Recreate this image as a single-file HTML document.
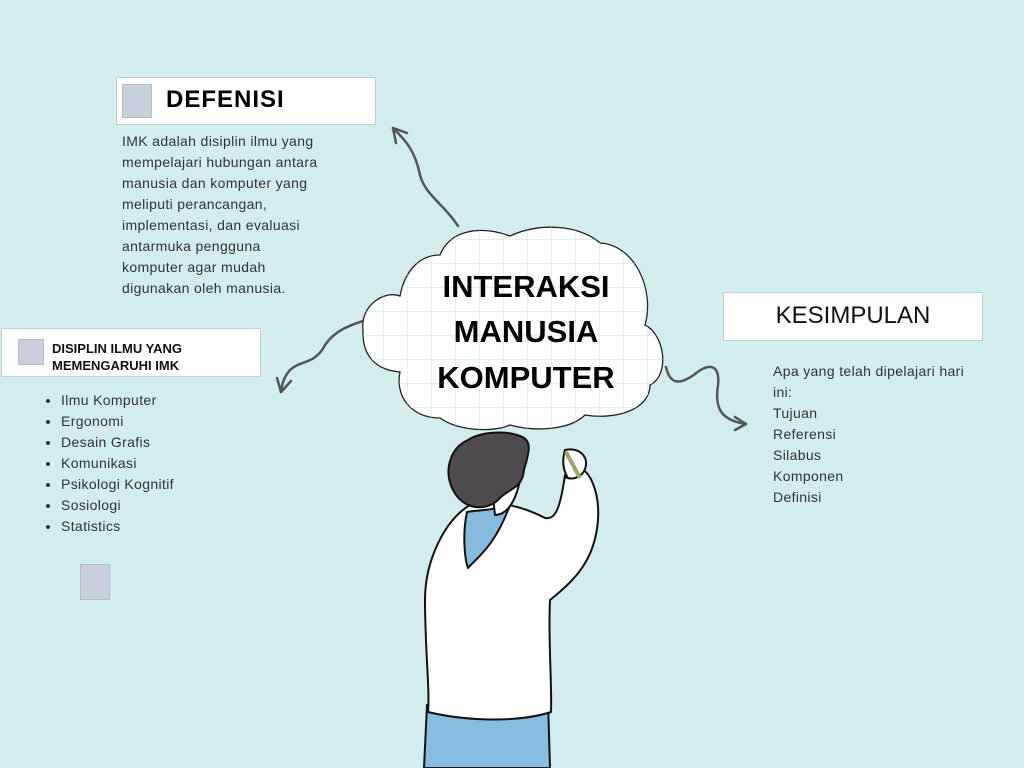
<!DOCTYPE html>
<html><head><meta charset="utf-8"><style>
body{margin:0;width:1024px;height:768px;background:#d3ecee;position:relative;overflow:hidden;font-family:"Liberation Sans",sans-serif;color:#2a2a2a}
.box{position:absolute;background:#fff;border:1px solid #b9d3d6}
.sq{position:absolute;background:#c8d1db;border:1px solid #b3bdc8}
.t{position:absolute;font-size:14px;line-height:21px;color:#333;letter-spacing:0.35px}
h1{position:absolute;margin:0;font-weight:bold}
</style></head><body>
<div class="box" style="left:116px;top:77px;width:258px;height:46px"></div>
<div class="sq" style="left:122px;top:84px;width:28px;height:32px"></div>
<h1 style="left:166px;top:86px;font-size:24px;letter-spacing:1px;color:#000">DEFENISI</h1>
<div class="t" style="left:122px;top:131px;width:240px">IMK adalah disiplin ilmu yang<br>mempelajari hubungan antara<br>manusia dan komputer yang<br>meliputi perancangan,<br>implementasi, dan evaluasi<br>antarmuka pengguna<br>komputer agar mudah<br>digunakan oleh manusia.</div>

<div class="box" style="left:1px;top:328px;width:258px;height:47px"></div>
<div class="sq" style="left:18px;top:339px;width:24px;height:24px"></div>
<h1 style="left:52px;top:340px;font-size:13px;line-height:17px;color:#111">DISIPLIN ILMU YANG<br>MEMENGARUHI IMK</h1>
<ul class="t" style="left:20px;top:390px;margin:0;padding-left:41px">
<li>Ilmu Komputer</li><li>Ergonomi</li><li>Desain Grafis</li><li>Komunikasi</li><li>Psikologi Kognitif</li><li>Sosiologi</li><li>Statistics</li></ul>
<div class="sq" style="left:80px;top:564px;width:28px;height:34px"></div>

<div class="box" style="left:723px;top:292px;width:258px;height:47px"></div>
<div style="position:absolute;left:723px;top:302px;width:260px;text-align:center;font-size:24px;color:#111">KESIMPULAN</div>
<div class="t" style="left:773px;top:361px;width:230px">Apa yang telah dipelajari hari<br>ini:<br>Tujuan<br>Referensi<br>Silabus<br>Komponen<br>Definisi</div>

<svg width="1024" height="768" style="position:absolute;left:0;top:0">
<defs><pattern id="g" width="24" height="24" patternUnits="userSpaceOnUse"><path d="M24 0V24M0 24H24" stroke="#bfe3e6" stroke-width="1" fill="none"/></pattern></defs>
<g fill="none" stroke="#555" stroke-width="2.5" stroke-linecap="round">
<path d="M458 226 C445 205 425 195 420 175 C415 150 405 140 393 128"/>
<path d="M393 128 L396 143 M393 128 L407 133"/>
<path d="M372 318 C350 325 335 330 325 345 C315 365 300 360 290 370 C283 378 282 385 281 392"/>
<path d="M281 392 L277 378 M281 392 L291 381"/>
<path d="M666 367 C670 385 680 385 695 374 C710 362 720 365 718 385 C715 405 718 420 746 424"/>
<path d="M746 424 L735 417 M746 424 L735 430"/>
</g>
<path d="M400 296 C385 290 360 305 363 330 C362 355 375 370 400 372 C395 395 410 418 440 418 C460 432 495 432 510 425 C535 432 570 430 585 415 C615 420 650 410 650 385 C670 375 665 335 645 325 C655 290 635 245 600 243 C580 225 540 222 510 236 C480 225 450 230 440 255 C420 255 405 270 400 296 Z" fill="#fff" stroke="#222" stroke-width="1.3"/>
<path d="M400 296 C385 290 360 305 363 330 C362 355 375 370 400 372 C395 395 410 418 440 418 C460 432 495 432 510 425 C535 432 570 430 585 415 C615 420 650 410 650 385 C670 375 665 335 645 325 C655 290 635 245 600 243 C580 225 540 222 510 236 C480 225 450 230 440 255 C420 255 405 270 400 296 Z" fill="url(#g)"/>
<text x="526" y="297" text-anchor="middle" font-size="31" font-weight="bold" font-family="Liberation Sans" fill="#000">INTERAKSI</text>
<text x="526" y="342" text-anchor="middle" font-size="31" font-weight="bold" font-family="Liberation Sans" fill="#000">MANUSIA</text>
<text x="526" y="388" text-anchor="middle" font-size="31" font-weight="bold" font-family="Liberation Sans" fill="#000">KOMPUTER</text>
<g stroke="#111" stroke-width="2" stroke-linejoin="round">
<path d="M427 705 L424 768 L550 768 L548 700 Z" fill="#86bde0"/>
<path d="M470 505 C445 520 425 560 425 600 C425 650 430 690 428 712 C470 722 520 722 551 712 C552 680 548 640 550 600 C575 580 595 560 598 520 C600 490 588 470 582 470 C575 480 565 480 565 475 C560 510 555 520 545 518 C520 505 495 500 470 505 Z" fill="#fff"/>
<path d="M467 512 C462 535 465 560 468 568 C480 555 495 545 510 505 C495 510 480 510 467 512 Z" fill="#84bbde"/>
<path d="M490 470 L495 515 C505 515 515 505 520 480 Z" fill="#fff"/>
<path d="M468 440 C450 448 444 470 452 488 C462 510 485 512 498 500 C508 488 522 490 524 470 C530 450 532 440 520 436 C505 430 480 432 468 440 Z" fill="#4f4a4d"/>
<path d="M565 450 C562 460 563 470 568 478 C575 480 585 475 586 465 C587 455 578 447 565 450 Z" fill="#fff"/>
</g>
<path d="M566 452 L580 478" stroke="#9aa860" stroke-width="4"/>
</svg>
</body></html>
